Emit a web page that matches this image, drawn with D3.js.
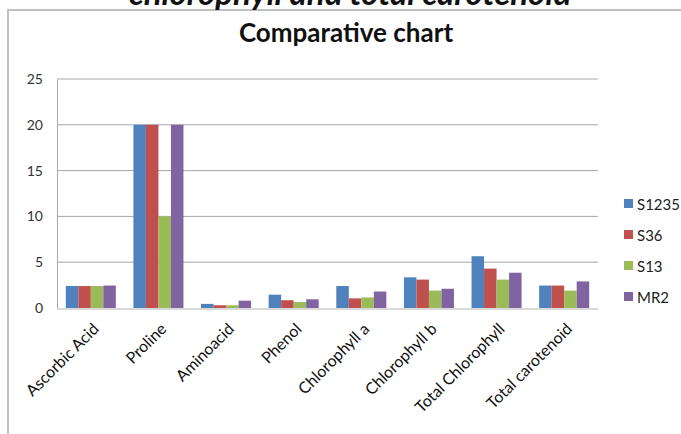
<!DOCTYPE html>
<html>
<head>
<meta charset="utf-8">
<script src="https://cdn.jsdelivr.net/npm/d3@7"></script>
<style>
body{margin:0;background:#fff;}
svg{display:block;font-family:Lato,"Open Sans",sans-serif;}
</style>
</head>
<body>
<div id="chart"></div>
<script>
const categories=["Ascorbic Acid","Proline","Aminoacid","Phenol","Chlorophyll a","Chlorophyll b","Total Chlorophyll","Total carotenoid"];
const seriesNames=["S1235","S36","S13","MR2"];
const s1235=[2.4,20,0.45,1.45,2.4,3.35,5.65,2.45];
const s36=[2.4,20,0.3,0.85,1.05,3.1,4.3,2.45];
const s13=[2.4,10,0.3,0.65,1.15,1.9,3.1,1.9];
const mr2=[2.45,20,0.8,0.95,1.8,2.1,3.85,2.9];
const yTicks=[0,5,10,15,20,25];
const colors=["#4F81BD","#C0504D","#9BBB59","#8064A2"];

const values=[s1235,s36,s13,mr2];
const rows=categories.map((c,i)=>({cat:c,vals:values.map(v=>v[i])}));

const W=681,H=434;
const margin={top:79,left:57,right:83,bottom:126};
const width=W-margin.left-margin.right, height=H-margin.top-margin.bottom;

const svg=d3.select("#chart").append("svg").attr("width",W).attr("height",H);

// outer chart border (runs off the right and bottom edge, as in the source image)
svg.append("rect").attr("x",8).attr("y",10).attr("width",700).attr("height",460)
  .attr("fill","#fff").attr("stroke","#c0c0c0").attr("stroke-width",2);

// upper title, cropped by the picture's top edge
svg.append("text").attr("x",350).attr("y",5).attr("text-anchor","middle")
  .attr("font-size",33).attr("font-weight","bold").attr("font-style","italic")
  .attr("fill","#111").text("chlorophyll and total carotenoid");

svg.append("text").attr("x",346).attr("y",42).attr("text-anchor","middle")
  .attr("font-size",26).attr("font-weight","bold").attr("fill","#111")
  .text("Comparative chart");

const g=svg.append("g").attr("transform","translate("+margin.left+","+margin.top+")");

let x0=d3.scaleBand().domain(categories).range([0,width]).paddingInner(0.26).paddingOuter(0.13);
let x1=d3.scaleBand().domain(seriesNames).range([0,x0.bandwidth()]);
let y=d3.scaleLinear().domain([0,25]).range([height,0]);

// gridlines
g.append("g").selectAll("line").data(yTicks.filter(t=>t>0)).enter().append("line")
  .attr("x1",0).attr("x2",width).attr("y1",d=>y(d)).attr("y2",d=>y(d))
  .attr("stroke","#a6a6a6").attr("stroke-width",1);

// y axis
const yAxis=g.append("g").call(d3.axisLeft(y).tickValues(yTicks).tickSize(0).tickPadding(14));
yAxis.select(".domain").attr("stroke","#a6a6a6");
yAxis.selectAll("text").attr("font-size",14).attr("fill","#333").attr("font-family","Lato,'Open Sans',sans-serif");

// bars
g.selectAll(".grp").data(rows).enter().append("g")
  .attr("transform",d=>"translate("+x0(d.cat)+",0)")
  .selectAll("rect").data(d=>d.vals.map((v,i)=>({key:seriesNames[i],v:v,i:i}))).enter().append("rect")
  .attr("x",d=>x1(d.key)).attr("width",x1.bandwidth())
  .attr("y",d=>y(d.v)).attr("height",d=>y(0)-y(d.v))
  .attr("fill",d=>colors[d.i]);

// baseline
g.append("line").attr("x1",0).attr("x2",width).attr("y1",y(0)+1).attr("y2",y(0)+1)
  .attr("stroke","#d9d9d9").attr("stroke-width",2);

// x labels rotated
g.append("g").selectAll("text").data(categories).enter().append("text")
  .attr("transform",d=>"translate("+(x0(d)+x0.bandwidth()/2+9)+","+(height+22)+") rotate(-45)")
  .attr("text-anchor","end").attr("font-size",16).attr("fill","#111").text(d=>d);

// legend
const leg=svg.append("g").attr("transform","translate(624,204)");
seriesNames.forEach((s,i)=>{
  const r=leg.append("g").attr("transform","translate(0,"+(i*31)+")");
  r.append("rect").attr("x",0).attr("y",-5).attr("width",9).attr("height",9).attr("fill",colors[i]);
  r.append("text").attr("x",13).attr("y",5.5).attr("font-size",15).attr("fill","#222").text(s);
});
</script>
</body>
</html>
